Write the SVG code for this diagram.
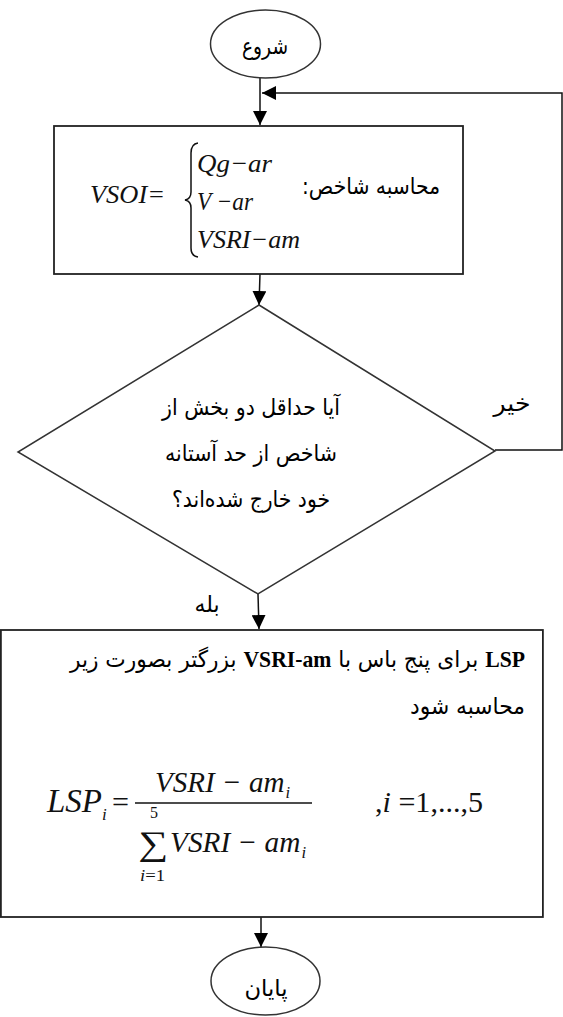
<svg xmlns="http://www.w3.org/2000/svg" width="563" height="1017" viewBox="0 0 563 1017">
<style>
.shape{fill:#fff;stroke:#333;stroke-width:1.5}
.box{fill:#fff;stroke:#222;stroke-width:1.8}
.conn{fill:none;stroke:#111;stroke-width:1.5}
.fa{font-family:"DejaVu Sans",sans-serif;font-size:23px;fill:#000;direction:rtl}
.m{font-family:"Liberation Serif","Times New Roman",serif;font-style:italic;fill:#111}
.u{font-family:"Liberation Serif","Times New Roman",serif;font-style:normal;fill:#111}
.b{font-family:"Liberation Serif","Times New Roman",serif;font-weight:bold}
.sub{font-size:17px}
</style>
<defs>
<marker id="ah" markerUnits="userSpaceOnUse" markerWidth="14" markerHeight="14" refX="14" refY="7" orient="auto">
<path d="M0,0 L14,7 L0,14 z" fill="#000"/>
</marker>
</defs>
<rect width="563" height="1017" fill="#fff"/>
<g id="connectors">
<line class="conn" x1="260" y1="78" x2="260" y2="125" marker-end="url(#ah)"/>
<polyline class="conn" points="495,450 562,450 562,93 262,93" marker-end="url(#ah)"/>
<line class="conn" x1="260" y1="274" x2="259" y2="305" marker-end="url(#ah)"/>
<line class="conn" x1="258" y1="594" x2="259" y2="629" marker-end="url(#ah)"/>
<line class="conn" x1="261" y1="917" x2="261" y2="947" marker-end="url(#ah)"/>
</g>
<g id="start">
<ellipse class="shape" cx="265.5" cy="44" rx="55" ry="34"/>
<text class="fa" x="265" y="54" text-anchor="middle" textLength="46" lengthAdjust="spacingAndGlyphs">شروع</text>
</g>
<g id="compute">
<rect class="box" x="54" y="126" width="409" height="148"/>
<text class="m" x="90" y="203" font-size="26" textLength="75" lengthAdjust="spacingAndGlyphs">VSOI=</text>
<path d="M198,143 Q191,144 191,153 L191,192 Q191,199 185,200 Q191,201 191,208 L191,248 Q191,256 198,257" fill="none" stroke="#111" stroke-width="1.5"/>
<text class="m" x="197" y="172" font-size="26" textLength="75" lengthAdjust="spacingAndGlyphs">Qg−ar</text>
<text class="m" x="197" y="210" font-size="26" textLength="56" lengthAdjust="spacingAndGlyphs">V −ar</text>
<text class="m" x="197" y="248" font-size="26" textLength="103" lengthAdjust="spacingAndGlyphs">VSRI−am</text>
<text class="fa" x="371" y="194" text-anchor="middle" textLength="138" lengthAdjust="spacingAndGlyphs">محاسبه شاخص:</text>
</g>
<g id="decision">
<polygon class="shape" points="259,305 495,451 258,594 18,452"/>
<text class="fa" x="251" y="415" text-anchor="middle" textLength="178" lengthAdjust="spacingAndGlyphs">آیا حداقل دو بخش از</text>
<text class="fa" x="251" y="461" text-anchor="middle" textLength="172" lengthAdjust="spacingAndGlyphs">شاخص از حد آستانه</text>
<text class="fa" x="251" y="507" text-anchor="middle" textLength="158" lengthAdjust="spacingAndGlyphs">خود خارج شده‌اند؟</text>
</g>
<g id="labels">
<text class="fa" x="512" y="411" text-anchor="middle" textLength="37" lengthAdjust="spacingAndGlyphs">خیر</text>
<text class="fa" x="207" y="612" text-anchor="middle" textLength="25" lengthAdjust="spacingAndGlyphs">بله</text>
</g>
<g id="lsp">
<rect class="box" x="0.9" y="630" width="542" height="287"/>
<text class="fa" x="297.5" y="667" text-anchor="middle" textLength="455" lengthAdjust="spacingAndGlyphs"><tspan class="b">LSP</tspan>  برای پنج باس با <tspan class="b">VSRI-am</tspan> بزرگتر بصورت زیر</text>
<text class="fa" x="467.5" y="714" text-anchor="middle" textLength="115" lengthAdjust="spacingAndGlyphs">محاسبه شود</text>
<text class="m" x="47" y="812" font-size="33">LSP<tspan class="sub" dy="8">i</tspan></text>
<text class="u" x="112" y="812" font-size="30" textLength="17" lengthAdjust="spacingAndGlyphs">=</text>
<line x1="135" y1="803" x2="312" y2="803" stroke="#111" stroke-width="1.3"/>
<text class="m" x="155" y="792" font-size="30" textLength="135" lengthAdjust="spacingAndGlyphs">VSRI − am<tspan class="sub" dx="1" dy="6">i</tspan></text>
<text class="u" x="150" y="818" font-size="16">5</text>
<text class="u" x="138" y="855" font-size="34" textLength="30" lengthAdjust="spacingAndGlyphs">∑</text>
<text class="m" x="170" y="852" font-size="30" textLength="136" lengthAdjust="spacingAndGlyphs">VSRI − am<tspan class="sub" dx="1" dy="6">i</tspan></text>
<text class="u" x="140" y="881" font-size="17" textLength="25" lengthAdjust="spacingAndGlyphs"><tspan class="m">i</tspan>=1</text>
<text class="u" x="375" y="812" font-size="29" textLength="108" lengthAdjust="spacingAndGlyphs">,<tspan class="m">i</tspan> =1,...,5</text>
</g>
<g id="end">
<ellipse class="shape" cx="265.5" cy="981" rx="54.5" ry="34"/>
<text class="fa" x="266" y="996" text-anchor="middle" textLength="43" lengthAdjust="spacingAndGlyphs">پایان</text>
</g>
</svg>
